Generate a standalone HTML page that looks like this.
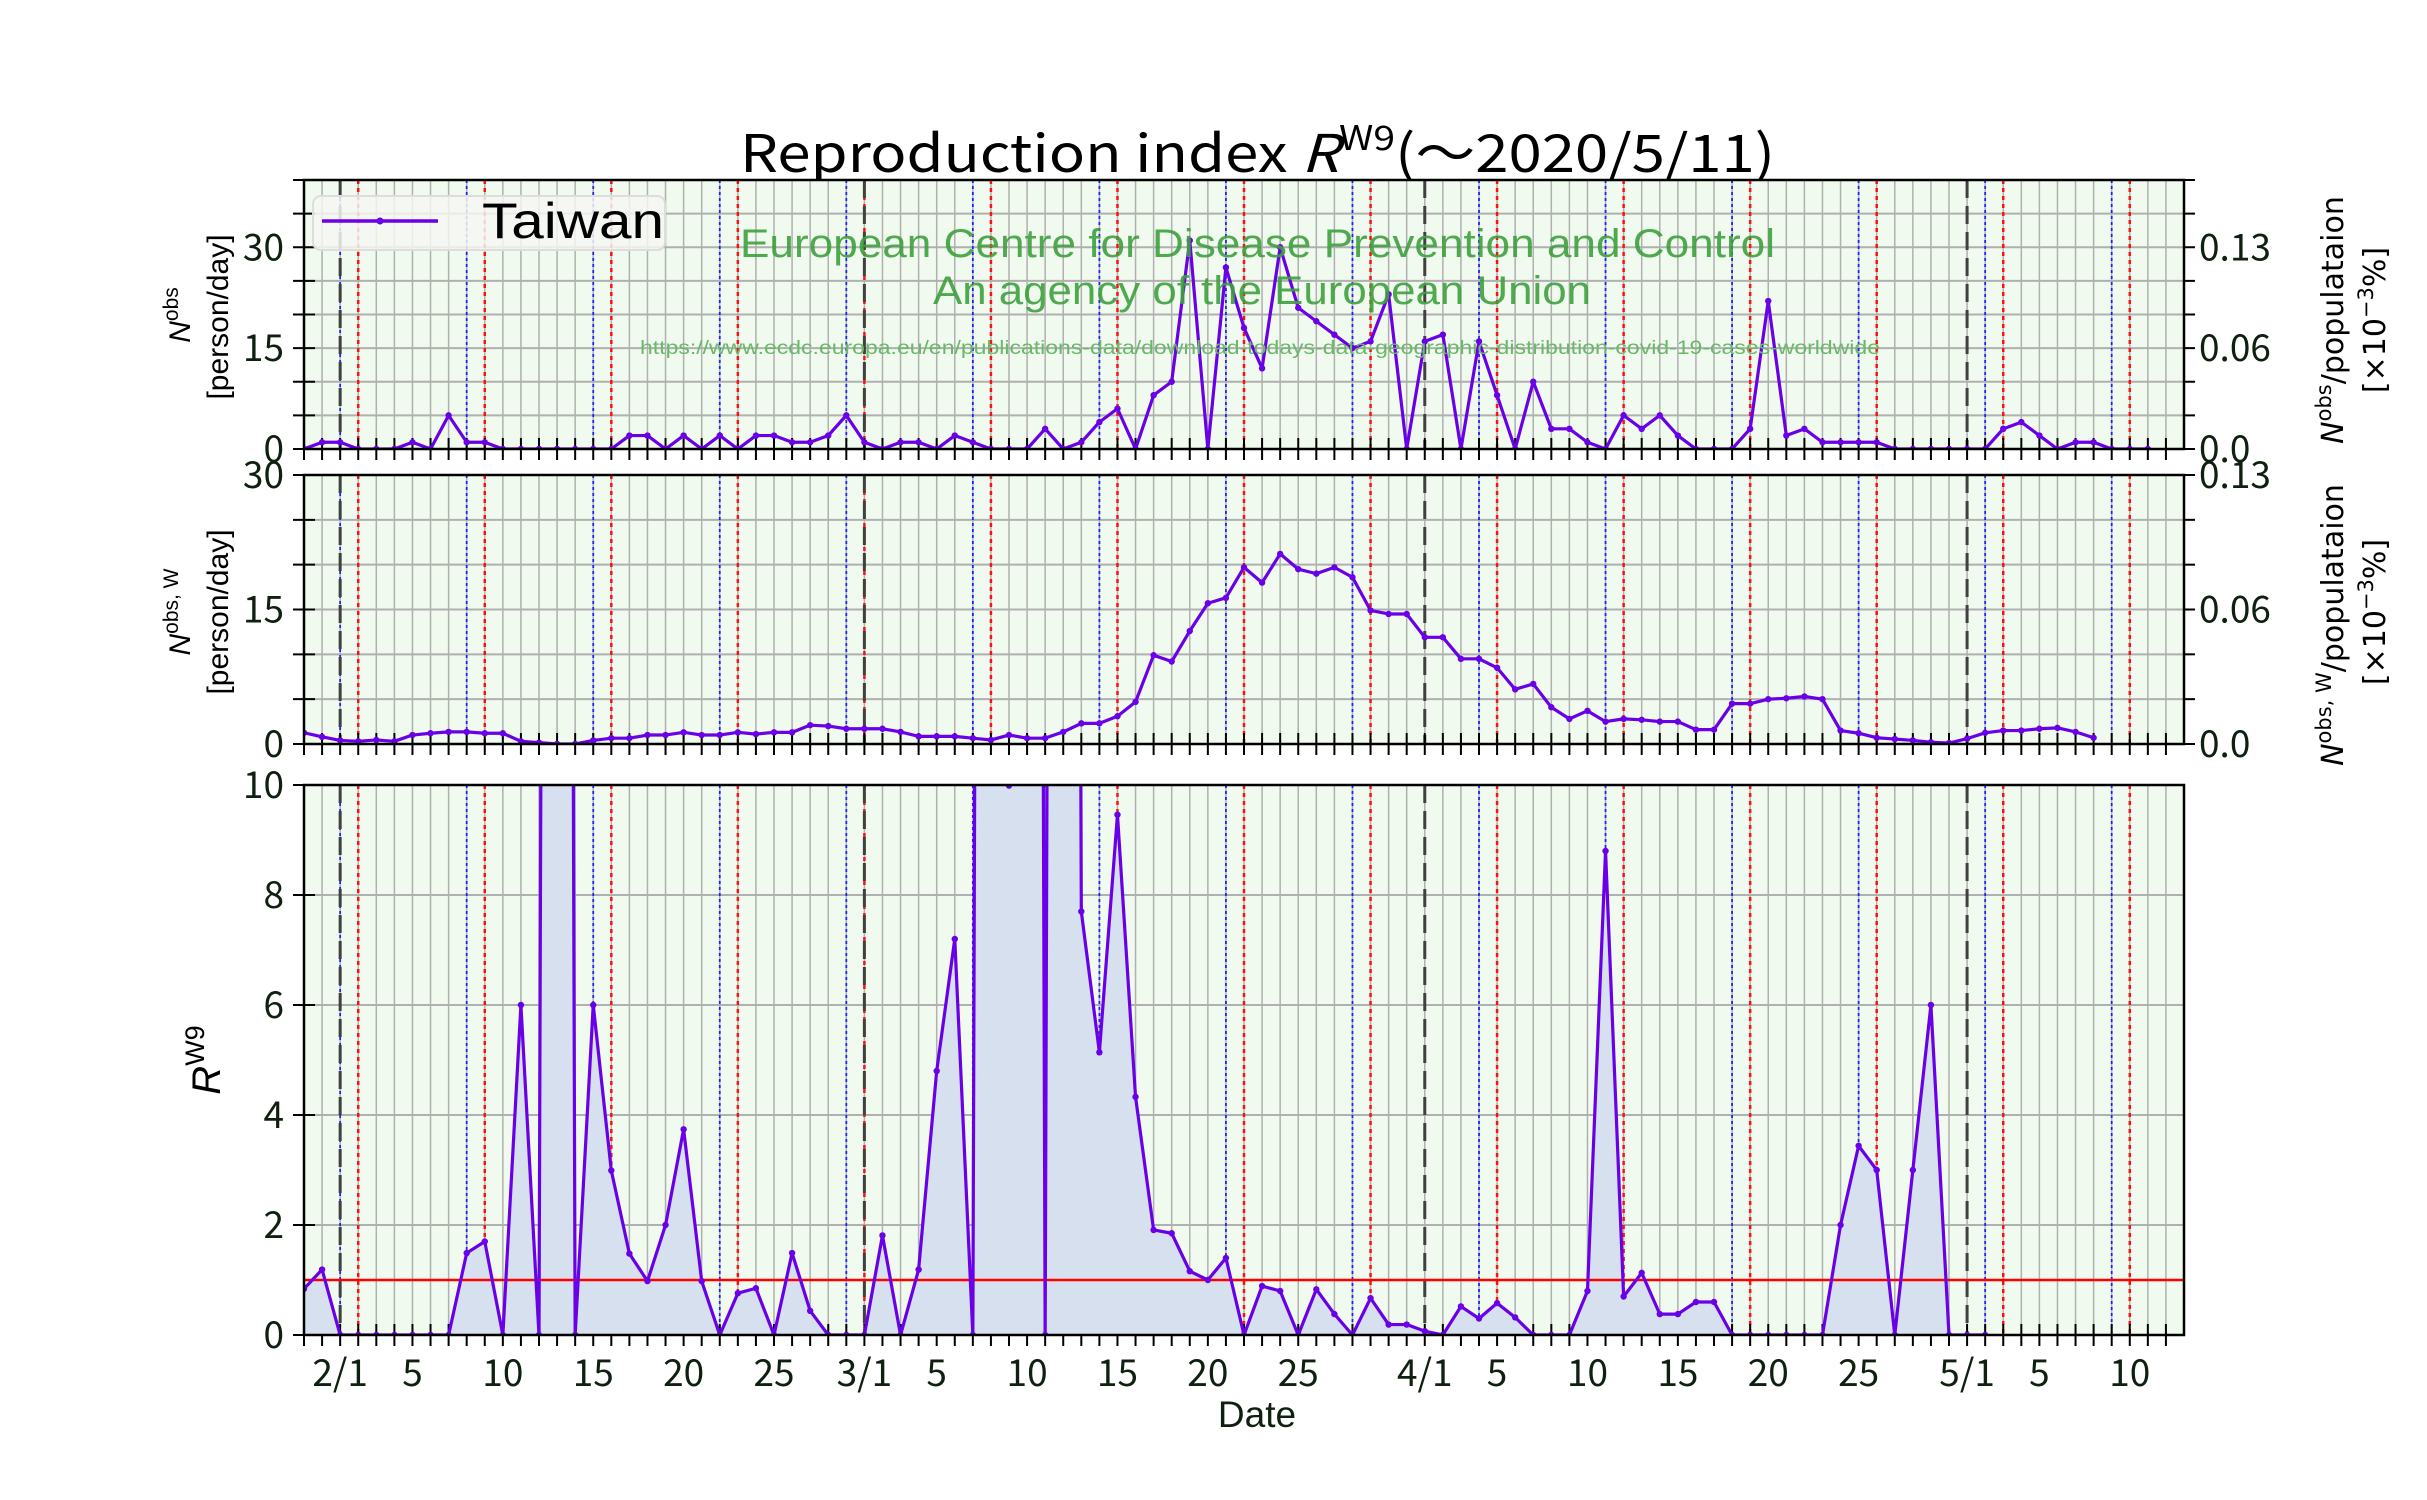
<!DOCTYPE html>
<html><head><meta charset="utf-8"><style>
html,body{margin:0;padding:0;background:#fff;}
svg{display:block;font-family:"Liberation Sans","Noto Sans CJK JP",sans-serif;}
.nf{font-family:"Noto Sans CJK JP","Liberation Sans",sans-serif;}
</style></head><body>
<svg id="chart" width="2427" height="1500" viewBox="0 0 2427 1500" xmlns="http://www.w3.org/2000/svg">
<defs>
<clipPath id="c1"><rect x="304" y="180" width="1880" height="269"/></clipPath>
<clipPath id="c2"><rect x="304" y="475" width="1880" height="269"/></clipPath>
<clipPath id="c3"><rect x="304" y="785" width="1880" height="550"/></clipPath>
</defs>
<text class="nf" x="740" y="172" font-size="52" textLength="1035" lengthAdjust="spacingAndGlyphs">Reproduction index <tspan font-style="italic">R</tspan><tspan font-size="34" dy="-22">W9</tspan><tspan dy="22">(～2020/5/11)</tspan></text>
<g id="layer"></g>
</svg>
<script>
const tickDays = [2,6,11,16,21,26,31,35,40,45,50,55,62,66,71,76,81,86,92,96,101];
const tickLabels = ["2/1","5","10","15","20","25","3/1","5","10","15","20","25","4/1","5","10","15","20","25","5/1","5","10"];
const monthStarts = [2,31,62,92];
const dailyCases = [0,1,1,0,0,0,1,0,5,1,1,0,0,0,0,0,0,0,2,2,
 0,2,0,2,0,2,2,1,1,2,5,1,0,1,1,0,2,1,0,0,
 0,3,0,1,4,6,0,8,10,31,0,27,18,12,30,21,19,17,15,16,
 23,0,16,17,0,16,8,0,10,3,3,1,0,5,3,5,2,0,0,0,
 3,22,2,3,1,1,1,1,0,0,0,0,0,0,3,4,2,0,1,1,0,0,0];
const weeklyCases = [1.25,0.8,0.4,0.3,0.45,0.3,1.0,1.2,1.35,1.35,1.2,1.2,0.3,0.15,0,0,0.4,0.65,0.65,1.0,
 1.0,1.3,1.0,1.0,1.3,1.1,1.3,1.3,2.1,2.0,1.7,1.7,1.7,1.35,0.85,0.85,0.85,0.65,0.45,1.0,
 0.65,0.65,1.35,2.3,2.3,3.1,4.7,9.9,9.2,12.6,15.7,16.3,19.7,18.0,21.2,19.5,19.0,19.7,18.6,14.9,
 14.5,14.5,11.9,11.9,9.5,9.5,8.5,6.1,6.7,4.1,2.8,3.7,2.5,2.8,2.7,2.5,2.5,1.6,1.6,4.5,
 4.5,5.0,5.1,5.3,5.0,1.5,1.2,0.7,0.55,0.4,0.2,0.1,0.6,1.25,1.5,1.5,1.7,1.8,1.35,0.7];
const rValues = [0.84,1.19,0,0,0,0,0,0,0,1.49,1.7,0,6.0,0,100,0,6.0,2.99,1.48,0.98,
 2.0,3.74,0.98,0,0.76,0.85,0,1.49,0.44,0,0,0,1.81,0,1.19,4.8,7.2,0,100,9.99,
 100,0,100,7.7,5.14,9.46,4.33,1.91,1.85,1.16,1.0,1.4,0,0.89,0.8,0,0.83,0.38,0,0.67,
 0.19,0.19,0.07,0,0.52,0.3,0.58,0.32,0,0,0,0.8,8.8,0.7,1.13,0.38,0.38,0.6,0.6,0,
 0,0,0,0,0,2.0,3.44,3.0,0,3.0,6.0,0,0,0];

const NS="http://www.w3.org/2000/svg";
const layer=document.getElementById('layer');
const X0=304, DX=18.077, XR=2184, NDAYS=104;
const xs=d=>X0+d*DX;
const panels=[
 {id:1,top:180,bot:449,max:40,grid:5,labels:[0,15,30],right:["0.0","0.06","0.13"],rightVals:[0,15,30]},
 {id:2,top:475,bot:744,max:30,grid:5,labels:[0,15,30],right:["0.0","0.06","0.13"],rightVals:[0,15,30]},
 {id:3,top:785,bot:1335,max:10,grid:2,labels:[0,2,4,6,8,10],right:null}
];
function mk(tag,attrs,parent){const e=document.createElementNS(NS,tag);for(const k in attrs)e.setAttribute(k,attrs[k]);(parent||layer).appendChild(e);return e;}
function ys(p,v){return p.bot-(v/p.max)*(p.bot-p.top);}

panels.forEach(p=>{
 const g=mk('g',{});
 
 
 const bg=mk('rect',{x:X0,y:p.top,width:XR-X0,height:p.bot-p.top,fill:'#f0faee'},g);
 
 
 for(let v=0;v<=p.max;v+=p.grid){
  const y=ys(p,v);
  const l=mk('line',{x1:X0,x2:XR,y1:y,y2:y,stroke:'#b0b0b0','stroke-width':2},g);
  
  
  mk('line',{x1:X0-11,x2:X0+11,y1:y,y2:y,stroke:'#000','stroke-width':2},g);
  if(p.right) mk('line',{x1:XR,x2:XR+11,y1:y,y2:y,stroke:'#000','stroke-width':2},g);
 }
 for(let d=0;d<=NDAYS;d++){
  const x=xs(d);
  const l=mk('line',{x1:x,x2:x,y1:p.top,y2:p.bot,stroke:'#b0b0b0','stroke-width':1.5},g);
  
  
 }
 for(let d=2;d<=NDAYS;d+=7){
  const l=mk('line',{x1:xs(d),x2:xs(d),y1:p.top,y2:p.bot,stroke:'#2020ff','stroke-width':1.8,'stroke-dasharray':'3,3'},g);
  
  
 }
 for(let d=3;d<=NDAYS;d+=7){
  const l=mk('line',{x1:xs(d),x2:xs(d),y1:p.top,y2:p.bot,stroke:'#ff1010','stroke-width':2.5,'stroke-dasharray':'4,4'},g);
  
  
 }
 monthStarts.forEach(d=>{
  const l=mk('line',{x1:xs(d),x2:xs(d),y1:p.top,y2:p.bot,stroke:'#404040','stroke-width':3,'stroke-dasharray':'18,8'},g);
  
  
 });
 for(let d=0;d<NDAYS;d++){
  mk('line',{x1:xs(d),x2:xs(d),y1:p.bot-11,y2:p.bot+11,stroke:'#000','stroke-width':2},g);
 }
 p.labels.forEach(v=>{
  const t=mk('text',{x:X0-20,y:ys(p,v)+13,'font-size':37,'text-anchor':'end',fill:'#102010','class':'nf'},g);
  t.textContent=String(v);
  
  
 });
 if(p.right){
  p.right.forEach((s,i)=>{
   const t=mk('text',{x:XR+15,y:ys(p,p.rightVals[i])+13,'font-size':37,fill:'#102010','class':'nf'},g);
   t.textContent=s;
   
   
  });
 }
});

function drawSeries(p,vals,fill){
 const g=mk('g',{'clip-path':'url(#c'+p.id+')'});
 
 
 const pts=vals.map((v,i)=>[xs(i),ys(p,v)]);
 if(fill){
  const poly=pts.map(q=>q.join(',')).join(' ')+' '+xs(vals.length-1)+','+p.bot+' '+xs(0)+','+p.bot;
  const f=mk('polygon',{points:poly,fill:'#d6e0ee'},g);
  
  
  const thr=mk('line',{x1:X0,x2:XR,y1:ys(p,1),y2:ys(p,1),stroke:'#ff0000','stroke-width':2.5},g);
  
  
 }
 const pl=mk('polyline',{points:pts.map(q=>q.join(',')).join(' '),fill:'none',stroke:'#6a00e8','stroke-width':3.2,'stroke-linejoin':'round'},g);
 
 
 pts.forEach(q=>{
  const c=mk('circle',{cx:q[0],cy:q[1],r:3.2,fill:'#6a00e8'},g);
  
  
 });
}
drawSeries(panels[0],dailyCases,false);
drawSeries(panels[1],weeklyCases,false);
drawSeries(panels[2],rValues,true);

panels.forEach(p=>{
 const r=mk('rect',{x:X0,y:p.top,width:XR-X0,height:p.bot-p.top,fill:'none',stroke:'#000','stroke-width':2.5});
 
 
});
tickDays.forEach((d,i)=>{
 const t=mk('text',{x:xs(d),y:1386,'font-size':37,'text-anchor':'middle',fill:'#102010','class':'nf'});
 t.textContent=tickLabels[i];
 
 
});
</script>
<svg style="position:absolute;left:0;top:0" width="2427" height="1500" viewBox="0 0 2427 1500" xmlns="http://www.w3.org/2000/svg" font-family="Noto Sans CJK JP, Liberation Sans, sans-serif">
<text x="1257" y="1427" font-size="37" text-anchor="middle" fill="#102010">Date</text>
<g>
<text transform="translate(190,315) rotate(-90)" font-size="30" text-anchor="middle"><tspan font-style="italic">N</tspan><tspan font-size="21" dy="-12">obs</tspan></text>
<text transform="translate(228,317) rotate(-90)" font-size="30" text-anchor="middle">[person/day]</text>
</g>
<g>
<text transform="translate(190,612) rotate(-90)" font-size="30" text-anchor="middle"><tspan font-style="italic">N</tspan><tspan font-size="21" dy="-12">obs, W</tspan></text>
<text transform="translate(228,612) rotate(-90)" font-size="30" text-anchor="middle">[person/day]</text>
</g>
<text transform="translate(220,1060) rotate(-90)" font-size="40" text-anchor="middle"><tspan font-style="italic">R</tspan><tspan font-size="27" dy="-16">W9</tspan></text>
<g font-family="DejaVu Sans, sans-serif">
<text transform="translate(2343,320) rotate(-90)" font-size="30" text-anchor="middle"><tspan font-style="italic">N</tspan><tspan font-size="21" dy="-12">obs</tspan><tspan dy="12">/populataion</tspan></text>
<text transform="translate(2385,320) rotate(-90)" font-size="30" text-anchor="middle">[×10<tspan font-size="21" dy="-12">−3</tspan><tspan dy="12">%]</tspan></text>
</g>
<g font-family="DejaVu Sans, sans-serif">
<text transform="translate(2343,625) rotate(-90)" font-size="30" text-anchor="middle"><tspan font-style="italic">N</tspan><tspan font-size="21" dy="-12">obs, W</tspan><tspan dy="12">/populataion</tspan></text>
<text transform="translate(2385,612) rotate(-90)" font-size="30" text-anchor="middle">[×10<tspan font-size="21" dy="-12">−3</tspan><tspan dy="12">%]</tspan></text>
</g>
<g>
<rect x="313" y="196" width="352" height="54" rx="8" fill="#f4f6f2" fill-opacity="0.85" stroke="#dddddd" stroke-width="2"/>
<line x1="322" y1="221" x2="438" y2="221" stroke="#6a00e8" stroke-width="3.5"/>
<circle cx="380" cy="221" r="3.5" fill="#6a00e8"/>
<text x="482" y="238" font-size="50" textLength="182" lengthAdjust="spacingAndGlyphs">Taiwan</text>
</g>
<g fill="#3da03d">
<text x="740" y="257" font-size="40" fill-opacity="0.9" textLength="1035" lengthAdjust="spacingAndGlyphs">European Centre for Disease Prevention and Control</text>
<text x="933" y="304" font-size="40" fill-opacity="0.9" textLength="658" lengthAdjust="spacingAndGlyphs">An agency of the European Union</text>
<text x="640" y="354" font-size="19" fill="#6ab86a" textLength="1240" lengthAdjust="spacingAndGlyphs">https://www.ecdc.europa.eu/en/publications-data/download-todays-data-geographic-distribution-covid-19-cases-worldwide</text>
</g>
</svg>
</body></html>
